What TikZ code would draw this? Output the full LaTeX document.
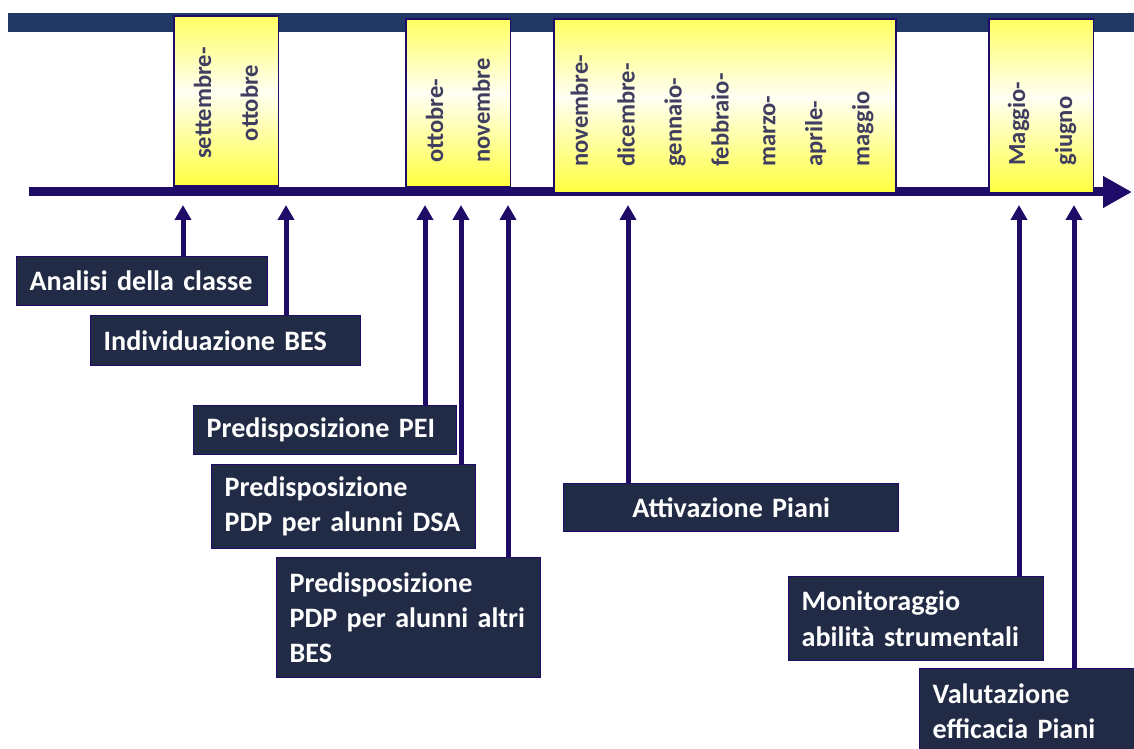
\documentclass[tikz,border=0pt]{standalone}
\usepackage{fontspec}
\setmainfont{Carlito}
\usetikzlibrary{arrows.meta}
\usetikzlibrary{calc}
\definecolor{barblue}{RGB}{32,56,100}
\definecolor{tlline}{RGB}{31,11,104}
\definecolor{lblfill}{RGB}{33,43,69}
\definecolor{monthtxt}{RGB}{64,62,96}
\tikzset{timeline/.style = {line width=0.18cm, draw=tlline,
                            -{Triangle[width=0.6cm, length=0.58cm]}}}
\tikzset{uparr/.style = {line width=0.1cm, draw=tlline,
                         -{Triangle[width=0.32cm, length=0.3cm]}}}
\tikzset{period/.style = {line width=0.6pt, anchor=north west, inner sep=0}}
\tikzset{month/.style = {rotate=90, text=monthtxt, inner sep=0, align=left,
                         font=\bfseries\fontsize{14}{26.7}\selectfont}}
\tikzset{lblbox/.style = {draw=tlline, fill=lblfill, text=white, line width=0.8pt,
                          inner xsep=0.26cm, inner ysep=0, align=left, anchor=north west,
                          font=\bfseries\fontsize{16}{20}\selectfont}}

\begin{document}
\begin{tikzpicture}[x=0.02cm, y=0.02cm]
    \useasboundingbox (0, 0) rectangle (1134, -749);
    \fill [barblue] (8, -13) rectangle (1134, -32);

    \coordinate (tlstart) at (29, -192);
    \coordinate (tlend) at (1132, -192);
    \draw [timeline] (tlstart) -- (tlend);

    \node [period, minimum width=2.06cm, minimum height=3.38cm] (settott) at (174, -16) {};
    \node [period, minimum width=2.06cm, minimum height=3.34cm] (ottnov) at (406, -19) {};
    \node [period, minimum width=6.82cm, minimum height=3.46cm] (novmag) at (554, -19) {};
    \node [period, minimum width=2.06cm, minimum height=3.46cm] (maggiu) at (989, -19) {};

    \foreach \b in {settott, ottnov, novmag, maggiu} {
        \foreach \i in {0,...,59} {
            \pgfmathtruncatemacro\blue{64 + 180 * (1 - abs(\i + 0.5 - 27) / 33)}
            \definecolor{stripcol}{RGB}{255,255,\blue}
            \fill [stripcol]
                ($(\b.north west)!{\i/60}!(\b.south west)$) rectangle
                ($(\b.north east)!{(\i + 1.4)/60}!(\b.south east)$);
        }
        \draw [tlline, line width=0.6pt] (\b.north west) rectangle (\b.south east);
    }

    \node [month, align=center] (settotttxt) at (226, -103) {settembre-\\ottobre};
    \node [month, anchor=west] (ottnovtxt) at (458, -163) {ottobre-\\novembre};
    \node [month, anchor=west] (novmagtxt) at (722, -167)
        {novembre-\\dicembre-\\gennaio-\\febbraio-\\marzo-\\aprile-\\maggio};
    \node [month, anchor=west] (maggiutxt) at (1042, -166) {Maggio-\\giugno};

    \node [lblbox, text width=4.5cm, minimum height=0.98cm] (analisi) at (16, -256)
        {Analisi della classe};
    \node [lblbox, text width=4.88cm, minimum height=1cm] (individ) at (90, -315)
        {Individuazione BES};
    \node [lblbox, text width=4.74cm, minimum height=0.98cm] (pei) at (193, -405)
        {Predisposizione PEI};
    \node [lblbox, text width=4.76cm, minimum height=1.68cm] (pdpdsa) at (211, -464)
        {Predisposizione\\PDP per alunni DSA};
    \node [lblbox, text width=4.76cm, minimum height=2.4cm] (pdpbes) at (276, -557)
        {Predisposizione\\PDP per alunni altri\\BES};
    \node [lblbox, text width=6.18cm, minimum height=0.96cm, align=center] (attiv) at (563, -483)
        {Attivazione Piani};
    \node [lblbox, text width=4.58cm, minimum height=1.68cm] (monit) at (788, -576)
        {Monitoraggio\\abilità strumentali};
    \node [lblbox, text width=4.76cm, minimum height=1.7cm] (valut) at (919, -668)
        {Valutazione\\efficacia Piani};

    \coordinate (tanalisi) at (183, -205);
    \coordinate (tindivid) at (286, -205);
    \coordinate (tpei) at (425, -205);
    \coordinate (tpdpdsa) at (461, -205);
    \coordinate (tpdpbes) at (508, -205);
    \coordinate (tattiv) at (628, -205);
    \coordinate (tmonit) at (1019, -205);
    \coordinate (tvalut) at (1074, -205);

    \draw [uparr] (analisi.north -| tanalisi) -- (tanalisi);
    \draw [uparr] (individ.north -| tindivid) -- (tindivid);
    \draw [uparr] (pei.north -| tpei) -- (tpei);
    \draw [uparr] (pdpdsa.north -| tpdpdsa) -- (tpdpdsa);
    \draw [uparr] (pdpbes.north -| tpdpbes) -- (tpdpbes);
    \draw [uparr] (attiv.north -| tattiv) -- (tattiv);
    \draw [uparr] (monit.north -| tmonit) -- (tmonit);
    \draw [uparr] (valut.north -| tvalut) -- (tvalut);
\end{tikzpicture}
\end{document}
